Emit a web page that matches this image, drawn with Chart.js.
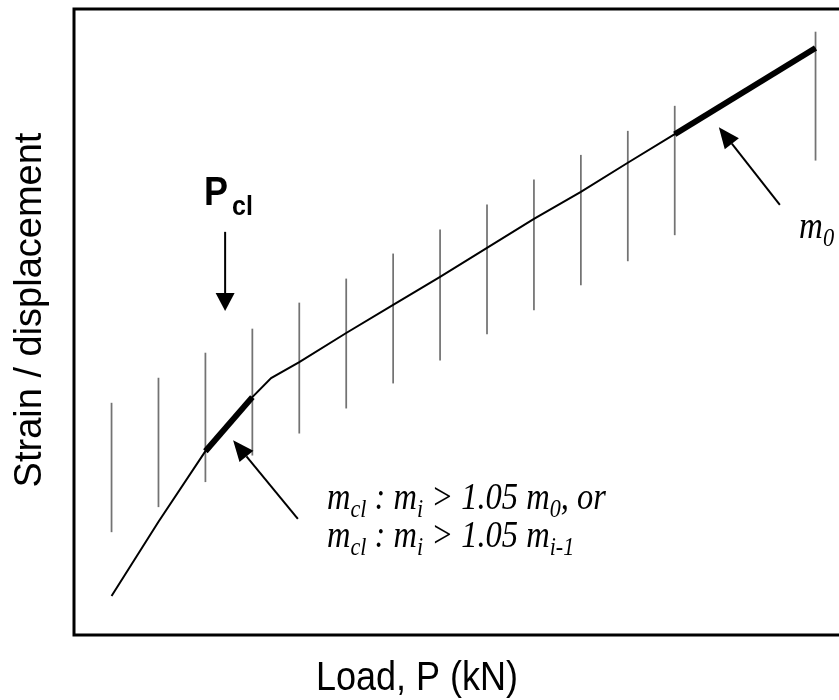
<!DOCTYPE html>
<html>
<head>
<meta charset="utf-8">
<script src="https://cdn.jsdelivr.net/npm/chart.js@4.4.1/dist/chart.umd.min.js"></script>
<style>
  body { margin: 0; background: #fff; }
  canvas { display: block; }
</style>
</head>
<body>
<canvas id="chart" width="839" height="700"></canvas>
<script>
// load steps (kN) and measured strain along the curve
const loads  = [10, 20, 30, 40, 44, 50, 60, 70, 80, 90, 100, 110, 120, 130, 160];
const strain = [7.8, 22.6, 36.7, 47.5, 51.3, 54.5, 60.3, 65.9, 71.5, 77.3, 83.1, 88.5, 94.3, 100.0, 117.2];

// scatter band at each load step
const barLoads = [10, 20, 30, 40, 50, 60, 70, 80, 90, 100, 110, 120, 130, 160];
const barLow   = [20.6, 25.6, 30.6, 35.9, 40.3, 45.3, 50.3, 54.9, 60.1, 64.9, 69.9, 74.7, 79.9, 94.8];
const barHigh  = [46.3, 51.3, 56.3, 61.1, 66.3, 71.1, 76.1, 80.9, 85.9, 90.9, 95.8, 100.6, 105.6, 120.4];

// slope segments that get the heavy stroke
const clRange = [30, 40];
const m0Range = [130, 160];

function segment(range) {
  const pts = [];
  loads.forEach((p, i) => {
    if (p >= range[0] && p <= range[1]) pts.push({ x: p, y: strain[i] });
  });
  return pts;
}

function arrow(ctx, x1, y1, x2, y2, len, half) {
  const a = Math.atan2(y2 - y1, x2 - x1);
  const bx = x2 - len * Math.cos(a), by = y2 - len * Math.sin(a);
  ctx.beginPath();
  ctx.moveTo(x1, y1);
  ctx.lineTo(bx, by);
  ctx.stroke();
  ctx.beginPath();
  ctx.moveTo(x2, y2);
  ctx.lineTo(bx + half * Math.sin(a), by - half * Math.cos(a));
  ctx.lineTo(bx - half * Math.sin(a), by + half * Math.cos(a));
  ctx.closePath();
  ctx.fill();
}

// text drawn a bit taller than wide
function tallText(ctx, text, x, y, sy) {
  ctx.save();
  ctx.translate(x, y);
  ctx.scale(1, sy);
  ctx.fillText(text, 0, 0);
  ctx.restore();
}

function richText(ctx, parts, x, y, size) {
  let cx = x;
  parts.forEach(p => {
    const s = p.sub ? size * 0.68 : size;
    ctx.font = 'italic ' + s + 'px "Liberation Serif"';
    tallText(ctx, p.t, cx, y + (p.sub ? size * 0.24 : 0), 1.15);
    cx += ctx.measureText(p.t).width;
  });
}

const frameAndNotes = {
  id: 'frameAndNotes',
  afterDraw(chart) {
    const ctx = chart.ctx;
    const a = chart.chartArea;
    const xs = chart.scales.x, ys = chart.scales.y;
    const px = v => xs.getPixelForValue(v);
    const py = v => ys.getPixelForValue(v);

    ctx.save();
    ctx.strokeStyle = '#000';
    ctx.fillStyle = '#000';

    // frame: top, left and bottom edges
    ctx.lineWidth = 3;
    ctx.beginPath();
    ctx.moveTo(a.right, a.top);
    ctx.lineTo(a.left, a.top);
    ctx.lineTo(a.left, a.bottom);
    ctx.lineTo(a.right, a.bottom);
    ctx.stroke();

    // arrows
    ctx.lineWidth = 2;
    arrow(ctx, px(34.2), py(80.5), px(34.2), py(64.7), 18, 9.5);
    arrow(ctx, px(152.4), py(85.9), px(139.4), py(101.4), 21, 9);
    arrow(ctx, px(49.7), py(23.2), px(35.9), py(38.9), 21, 9);

    // P_cl label
    ctx.textAlign = 'left';
    ctx.textBaseline = 'alphabetic';
    ctx.font = 'bold 36px "Liberation Sans"';
    const pX = px(29.7), pY = py(85.9);
    tallText(ctx, 'P', pX, pY, 1.15);
    const pW = ctx.measureText('P').width;
    ctx.font = 'bold 25px "Liberation Sans"';
    tallText(ctx, 'cl', pX + pW + 4, pY + 10, 1.1);

    // slope labels
    richText(ctx, [{ t: 'm' }, { t: '0', sub: true }], px(156.5), py(79.3), 33);
    richText(ctx, [{ t: 'm' }, { t: 'cl', sub: true }, { t: ' : m' }, { t: 'i', sub: true },
      { t: ' > 1.05 m' }, { t: '0', sub: true }, { t: ', or' }], px(55.9), py(25.2), 32.5);
    richText(ctx, [{ t: 'm' }, { t: 'cl', sub: true }, { t: ' : m' }, { t: 'i', sub: true },
      { t: ' > 1.05 m' }, { t: 'i-1', sub: true }], px(55.9), py(17.6), 32.5);

    // axis titles
    ctx.font = '36px "Liberation Sans"';
    ctx.textAlign = 'center';
    tallText(ctx, 'Load, P (kN)', 417, 690, 1.15);

    ctx.font = '38px "Liberation Sans"';
    ctx.translate(41, 310);
    ctx.rotate(-Math.PI / 2);
    ctx.fillText('Strain / displacement', 0, 0);
    ctx.restore();
  }
};

new Chart(document.getElementById('chart'), {
  type: 'line',
  data: {
    datasets: [
      {
        type: 'bar',
        data: barLoads.map((p, i) => ({ x: p, y: [barLow[i], barHigh[i]] })),
        backgroundColor: 'rgba(80,80,80,0.8)',
        barThickness: 1.1,
        order: 3
      },
      {
        data: loads.map((p, i) => ({ x: p, y: strain[i] })),
        borderColor: '#000',
        borderWidth: 2,
        pointRadius: 0,
        tension: 0,
        order: 2
      },
      {
        data: segment(clRange),
        borderColor: '#000',
        borderWidth: 6,
        borderCapStyle: 'butt',
        pointRadius: 0,
        order: 1
      },
      {
        data: segment(m0Range),
        borderColor: '#000',
        borderWidth: 6,
        borderCapStyle: 'butt',
        pointRadius: 0,
        order: 1
      }
    ]
  },
  options: {
    responsive: false,
    animation: false,
    layout: { padding: { left: 74, top: 9, right: 0, bottom: 65 } },
    plugins: { legend: { display: false }, tooltip: { enabled: false } },
    scales: {
      x: { type: 'linear', display: false, min: 2, max: 165, offset: false },
      y: { type: 'linear', display: false, min: 0, max: 125 }
    }
  },
  plugins: [frameAndNotes]
});
</script>
</body>
</html>
